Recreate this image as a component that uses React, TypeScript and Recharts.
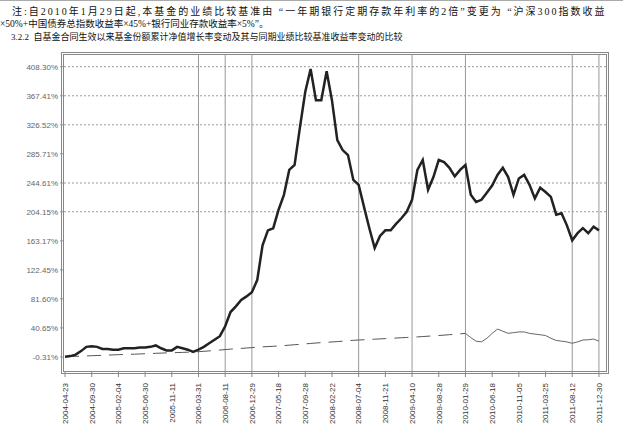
import React from 'react'
import { LineChart, Line, XAxis, YAxis, ReferenceLine } from 'recharts'

// one label every 5 samples
const STEP = 5

const xLabels = [
  '2004-04-23', '2004-09-30', '2005-02-04', '2005-06-30', '2005-11-11',
  '2006-03-31', '2006-08-11', '2006-12-29', '2007-05-18', '2007-09-28',
  '2008-02-22', '2008-07-04', '2008-11-21', '2009-04-10', '2009-08-28',
  '2010-01-29', '2010-06-18', '2010-11-05', '2011-03-25', '2011-08-12',
  '2011-12-30',
]

// 基金份额累计净值增长率 (%)
const fundValues = [
  0, 1, 3, 8, 14, 15, 14, 11, 11, 10,
  10, 12, 12, 12, 13, 13, 14, 16, 12, 9,
  9, 14, 12, 10, 7, 10, 14, 19, 24, 29,
  43, 63, 71, 80, 85, 91, 108, 157, 178, 181,
  207, 228, 263, 270, 323, 373, 405, 361, 361, 402,
  361, 305, 291, 284, 249, 242, 211, 181, 153, 170,
  178, 178, 187, 195, 204, 221, 263, 277, 235, 253,
  277, 274, 266, 254, 263, 270, 228, 218, 221, 231,
  241, 256, 266, 253, 228, 251, 256, 242, 223, 238,
  232, 225, 200, 202, 185, 164, 174, 181, 174, 183,
  178,
]

// 业绩比较基准收益率 (%), before the 2010-01-29 change
const benchBefore = [
  0, 0.3, 0.6, 0.9, 1.2, 1.5, 1.8, 2.1, 2.4, 2.7,
  3.0, 3.2, 3.5, 3.7, 4.0, 4.3, 4.6, 4.9, 5.2, 5.5,
  5.7, 6.0, 6.2, 6.5, 6.8, 7.2, 7.7, 8.3, 8.9, 9.5,
  10.2, 10.8, 11.3, 11.8, 12.4, 12.9, 13.5, 14.0, 14.4, 14.8,
  15.2, 15.8, 16.4, 17.0, 17.6, 18.2, 18.8, 19.4, 19.9, 20.4,
  20.9, 21.4, 22.0, 22.6, 23.2, 23.6, 24.0, 24.4, 24.8, 25.2,
  25.6, 26.0, 26.4, 26.8, 27.2, 27.6, 28.0, 28.5, 29.0, 29.5,
  30.0, 30.5, 31.1, 31.7, 32.3, 33.0,
]

// after the change (from sample 75 on)
const benchAfter = [
  33, 27, 22, 21, 26, 33, 39, 36, 33, 34,
  35, 35, 33, 32, 31, 30, 26, 23, 22, 21,
  19, 21, 23.6, 24, 25, 22,
]
const CHANGE_AT = 75

const yTicks = [-0.31, 40.65, 81.6, 122.45, 163.17, 204.15, 244.61, 285.71, 326.52, 367.41, 408.3]
const hGrid = [408.3, 367.41, 326.52, 244.61, 204.15]
const vGridLabels = [5, 6, 7, 11, 13, 15, 19, 20]

const data = fundValues.map((v, i) => ({
  t: i,
  fund: v,
  benchA: i <= CHANGE_AT ? benchBefore[i] : null,
  benchB: i >= CHANGE_AT ? benchAfter[i - CHANGE_AT] : null,
}))

const xTicks = xLabels.map((_, k) => k * STEP)

function XTick({ x, y, payload }: any) {
  const label = xLabels[Math.round(payload.value / STEP)]
  return (
    <g transform={`translate(${x},${y})`}>
      <text
        transform="rotate(-90)"
        x={-4}
        y={0}
        dy="0.35em"
        textAnchor="end"
        fontSize={8}
        fill="#333"
        fontFamily="'Liberation Sans', Arial, sans-serif"
      >
        {label}
      </text>
    </g>
  )
}

const textFont = "'Liberation Serif', 'Noto Sans CJK SC', serif"

export default function App() {
  return (
    <div
      style={{
        position: 'absolute',
        left: 0,
        top: 0,
        width: 623,
        height: 424,
        background: '#fff',
        overflow: 'hidden',
      }}
    >
      <div style={{ position: 'absolute', left: 0, top: 0, width: 623, height: 1, background: '#aaa' }} />
      <div
        style={{
          position: 'absolute',
          left: 12,
          top: 3,
          whiteSpace: 'nowrap',
          fontSize: 10,
          letterSpacing: 2,
          fontFamily: textFont,
          color: '#111',
        }}
      >
        注:自2010年1月29日起,本基金的业绩比较基准由 “一年期银行定期存款年利率的2倍”变更为 “沪深300指数收益
      </div>
      <div
        style={{
          position: 'absolute',
          left: 0,
          top: 16,
          whiteSpace: 'nowrap',
          fontSize: 9.5,
          fontFamily: textFont,
          color: '#111',
        }}
      >
        ×50%+中国债券总指数收益率×45%+银行同业存款收益率×5%”。
      </div>
      <div
        style={{
          position: 'absolute',
          left: 11,
          top: 30,
          whiteSpace: 'nowrap',
          fontSize: 9,
          fontFamily: textFont,
          color: '#111',
        }}
      >
        3.2.2&nbsp;&nbsp;自基金合同生效以来基金份额累计净值增长率变动及其与同期业绩比较基准收益率变动的比较
      </div>

      <div style={{ position: 'absolute', left: 0, top: 0 }}>
        <LineChart
          width={623}
          height={424}
          data={data}
          margin={{ top: 54, right: 15, bottom: 2, left: 4 }}
        >
          <XAxis
            dataKey="t"
            type="number"
            domain={[-0.19, 101.7]}
            ticks={xTicks}
            interval={0}
            height={50}
            axisLine={false}
            tickLine={{ stroke: '#888' }}
            tickSize={5}
            tick={<XTick />}
          />
          <YAxis
            type="number"
            domain={[-21.4, 426.2]}
            ticks={yTicks}
            interval={0}
            width={60}
            axisLine={false}
            tickLine={{ stroke: '#999' }}
            tickSize={4}
            tickFormatter={(v: number) => v.toFixed(2) + '%'}
            tick={{ fontSize: 8, fill: '#666', fontFamily: "'Liberation Sans', Arial, sans-serif" }}
          />
          {hGrid.map((v) => (
            <ReferenceLine key={'h' + v} y={v} stroke="#999" strokeDasharray="2 2" />
          ))}
          {vGridLabels.map((k) => (
            <ReferenceLine key={'v' + k} x={k * STEP} stroke="#999" />
          ))}
          <Line
            dataKey="benchA"
            stroke="#555"
            strokeWidth={1}
            strokeDasharray="14 8"
            dot={false}
            isAnimationActive={false}
            connectNulls={false}
          />
          <Line
            dataKey="benchB"
            stroke="#666"
            strokeWidth={1}
            dot={false}
            isAnimationActive={false}
            connectNulls={false}
          />
          <Line
            dataKey="fund"
            stroke="#222"
            strokeWidth={2.5}
            dot={false}
            isAnimationActive={false}
          />
        </LineChart>
      </div>

      <div
        style={{
          position: 'absolute',
          left: 61,
          top: 52,
          width: 548,
          height: 322,
          boxSizing: 'border-box',
          border: '3px double #888',
          pointerEvents: 'none',
        }}
      />
    </div>
  )
}
